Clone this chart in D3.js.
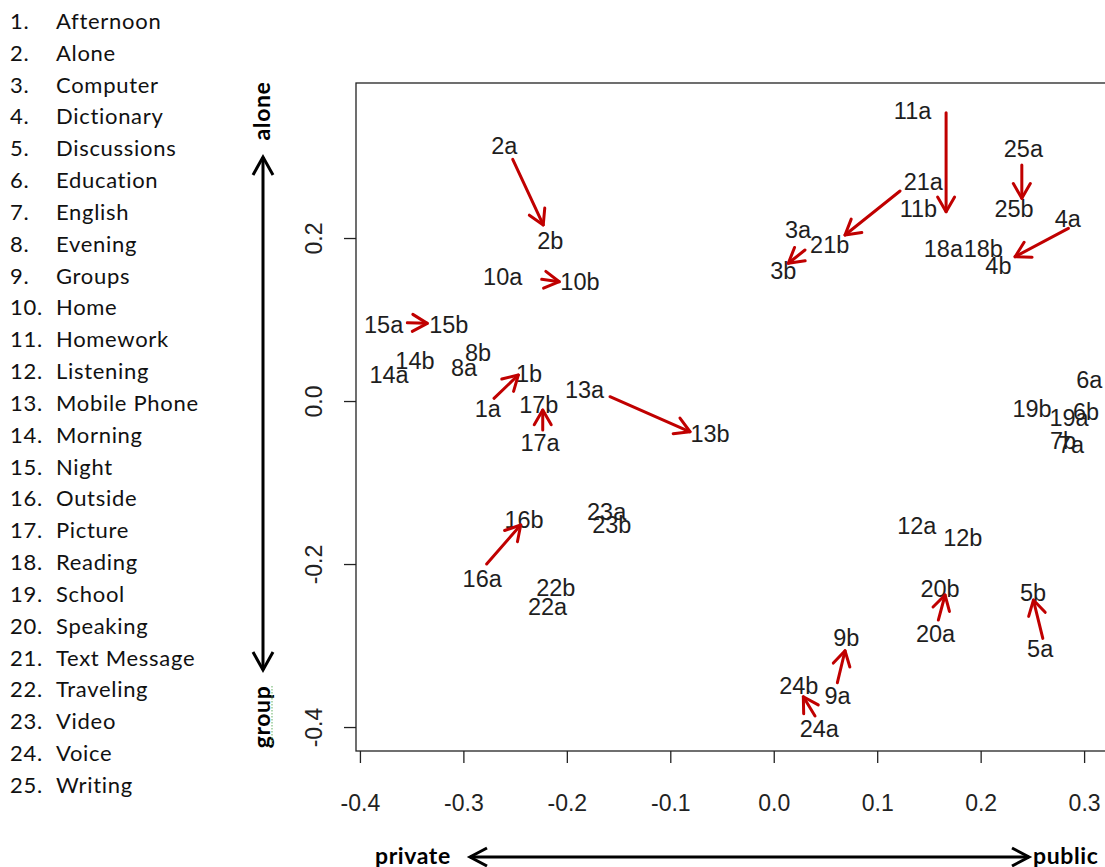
<!DOCTYPE html>
<html>
<head>
<meta charset="utf-8">
<script src="https://cdn.jsdelivr.net/npm/d3@7"></script>
<style>
  html, body { margin: 0; padding: 0; background: #fff; }
  svg { display: block; }
</style>
</head>
<body>
<svg id="chart" width="1105" height="867"></svg>
<script>
// ---------- DATA ----------
const categories = ["Afternoon","Alone","Computer","Dictionary","Discussions","Education","English",
  "Evening","Groups","Home","Homework","Listening","Mobile Phone","Morning","Night","Outside",
  "Picture","Reading","School","Speaking","Text Message","Traveling","Video","Voice","Writing"];

const pointLabels = ["1a","1b","2a","2b","3a","3b","4a","4b","5a","5b","6a","6b","7b","7a","8a","8b",
  "9a","9b","10a","10b","11a","11b","12a","12b","13a","13b","14a","14b","15a","15b","16a","16b",
  "17a","17b","18a","18b","19a","19b","20a","20b","21a","21b","22a","22b","23a","23b","24a","24b","25a","25b"];
const pointX = [-0.2764,-0.2366,-0.2605,-0.2160,0.0235,0.0093,0.2843,0.2172,0.2575,0.2507,0.3051,0.3019,0.2797,0.2874,-0.2994,-0.2859,
  0.0617,0.0702,-0.2620,-0.1873,0.1342,0.1398,0.1383,0.1827,-0.1829,-0.0616,-0.3719,-0.3468,-0.3771,-0.3141,-0.2818,-0.2414,
  -0.2259,-0.2271,0.1640,0.2026,0.2855,0.2497,0.1564,0.1608,0.1446,0.0541,-0.2187,-0.2107,-0.1615,-0.1566,0.0440,0.0242,0.2413,0.2323];
const pointY = [-0.0090,0.0340,0.3133,0.1975,0.2098,0.1598,0.2242,0.1665,-0.3039,-0.2344,0.0258,-0.0123,-0.0479,-0.0528,0.0405,0.0601,
  -0.3611,-0.2898,0.1530,0.1469,0.3558,0.2356,-0.1531,-0.1679,0.0135,-0.0399,0.0328,0.0491,0.0941,0.0941,-0.2175,-0.1448,
  -0.0512,-0.0049,0.1877,0.1877,-0.0202,-0.0098,-0.2847,-0.2298,0.2691,0.1918,-0.2519,-0.2288,-0.1350,-0.1518,-0.4016,-0.3485,0.3092,0.2356];

const arrowIds = [1,2,3,4,5,9,10,11,13,15,16,17,20,21,24,25];
const arrowX0 = [-0.2704,-0.2523,0.0302,0.2848,0.2601,0.0615,-0.2243,0.1666,-0.1583,-0.3542,-0.2775,-0.2233,0.1591,0.1221,0.0399,0.2398];
const arrowY0 = [0.0033,0.2966,0.1853,0.2119,-0.2912,-0.3456,0.1493,0.3537,0.0053,0.0961,-0.2000,-0.0356,-0.2687,0.2577,-0.3865,0.2896];
const arrowX1 = [-0.2469,-0.2228,0.0141,0.2333,0.2510,0.0689,-0.2073,0.1666,-0.0809,-0.3349,-0.2446,-0.2233,0.1656,0.0689,0.0286,0.2398];
const arrowY1 = [0.0319,0.2160,0.1690,0.1771,-0.2442,-0.3064,0.1464,0.2323,-0.0377,0.0953,-0.1521,-0.0110,-0.2380,0.2037,-0.3628,0.2487];

const xTicks = [-0.4,-0.3,-0.2,-0.1,0.0,0.1,0.2,0.3];
const yTicks = [-0.4,-0.2,0.0,0.2];

// ---------- LAYOUT ----------
const svg = d3.select("#chart");
const box = {left: 356, top: 83, bottom: 751, right: 1126};
const x = d3.scaleLinear().domain([-0.4038, 0.3405]).range([box.left, box.right]);
const y = d3.scaleLinear().domain([-0.4294, 0.3902]).range([box.bottom, box.top]);
const red = "#c00000";
const plotFont = "'Liberation Sans', Arial, sans-serif";
const sideFont = "Lato, 'Open Sans', sans-serif";

// ---------- LEFT LIST ----------
const list = svg.append("g").attr("font-family", sideFont).attr("font-size", 22)
  .attr("letter-spacing", "0.7px").attr("fill", "#111");
categories.forEach((c, i) => {
  const yy = 29 + i * 31.83;
  list.append("text").attr("x", 10).attr("y", yy).text((i + 1) + ".");
  list.append("text").attr("x", 56).attr("y", yy).text(c);
});

// ---------- SIDE ARROWS ----------
const side = svg.append("g").attr("stroke", "#000").attr("stroke-width", 3).attr("fill", "none")
  .attr("stroke-linecap", "butt");
side.append("line").attr("x1", 263).attr("x2", 263).attr("y1", 157).attr("y2", 670);
side.append("polyline").attr("points", "253,175 263,157 273,175");
side.append("polyline").attr("points", "253,652 263,670 273,652");
side.append("line").attr("x1", 470).attr("x2", 1029).attr("y1", 857).attr("y2", 857);
side.append("polyline").attr("points", "487,848 470,857 487,866");
side.append("polyline").attr("points", "1012,848 1029,857 1012,866");

const sideText = svg.append("g").attr("font-family", sideFont).attr("font-weight", "bold")
  .attr("font-size", 23).attr("letter-spacing", "0.6px").attr("fill", "#000");
sideText.append("text").attr("transform", "translate(270,111) rotate(-90)").attr("text-anchor", "middle").text("alone");
sideText.append("text").attr("transform", "translate(270,717) rotate(-90)").attr("text-anchor", "middle").text("group");
sideText.append("text").attr("x", 375).attr("y", 864).text("private");
sideText.append("text").attr("x", 1033).attr("y", 864).text("public");
svg.append("line").attr("x1", 272).attr("x2", 272).attr("y1", 686).attr("y2", 746)
  .attr("stroke", "#7fbf7f").attr("stroke-width", 1.2).attr("stroke-dasharray", "1.5,1.5");

// ---------- PLOT BOX & AXES ----------
svg.append("rect").attr("x", box.left).attr("y", box.top)
  .attr("width", box.right - box.left).attr("height", box.bottom - box.top)
  .attr("fill", "none").attr("stroke", "#222").attr("stroke-width", 1.3);

const fmt = d => d3.format(".1f")(d).replace("−", "-");
const xAxis = svg.append("g").attr("transform", `translate(0,${box.bottom})`)
  .call(d3.axisBottom(x).tickValues(xTicks).tickFormat(fmt).tickSize(12).tickPadding(32));
xAxis.select(".domain").remove();
xAxis.selectAll("line").attr("stroke", "#222").attr("stroke-width", 1.3);
xAxis.selectAll("text").attr("font-family", plotFont).attr("font-size", 23).attr("fill", "#222");

const yAxis = svg.append("g").attr("transform", `translate(${box.left},0)`)
  .call(d3.axisLeft(y).tickValues(yTicks).tickFormat(fmt).tickSize(12).tickPadding(0));
yAxis.select(".domain").remove();
yAxis.selectAll("line").attr("stroke", "#222").attr("stroke-width", 1.3);
yAxis.selectAll("text").remove();
yAxis.selectAll(".tick").append("text")
  .attr("transform", "translate(-42,0) rotate(-90)")
  .attr("text-anchor", "middle").attr("dy", "0.35em")
  .attr("font-family", plotFont).attr("font-size", 23).attr("fill", "#222")
  .text(fmt);

// ---------- POINT LABELS ----------
const plot = svg.append("g");
plot.selectAll("text.pt").data(pointLabels).join("text").attr("class", "pt")
  .attr("x", (d, i) => x(pointX[i])).attr("y", (d, i) => y(pointY[i]))
  .attr("dy", "0.36em").attr("text-anchor", "middle")
  .attr("font-family", plotFont).attr("font-size", 23.5).attr("fill", "#1e1e1e")
  .text(d => d);

// ---------- ARROWS ----------
const ag = svg.append("g").attr("stroke", red).attr("stroke-width", 3).attr("fill", "none")
  .attr("stroke-linecap", "round").attr("stroke-linejoin", "round");
const headLen = 17, headAng = Math.PI / 6;
arrowIds.forEach((id, i) => {
  const x0 = x(arrowX0[i]), y0 = y(arrowY0[i]), x1 = x(arrowX1[i]), y1 = y(arrowY1[i]);
  ag.append("line").attr("x1", x0).attr("y1", y0).attr("x2", x1).attr("y2", y1);
  const a = Math.atan2(y1 - y0, x1 - x0);
  const p1 = [x1 - headLen * Math.cos(a - headAng), y1 - headLen * Math.sin(a - headAng)];
  const p2 = [x1 - headLen * Math.cos(a + headAng), y1 - headLen * Math.sin(a + headAng)];
  ag.append("polyline").attr("points", `${p1[0]},${p1[1]} ${x1},${y1} ${p2[0]},${p2[1]}`);
});
</script>
</body>
</html>
